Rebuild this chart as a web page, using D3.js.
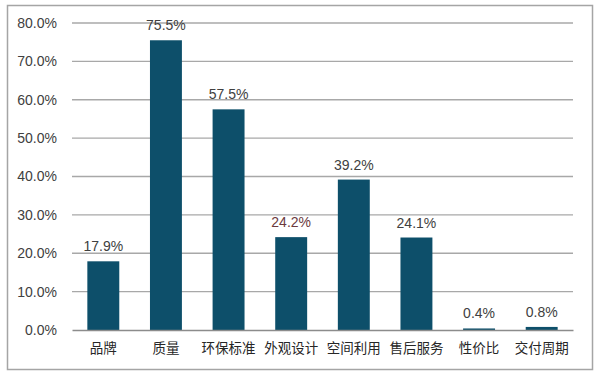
<!DOCTYPE html>
<html>
<head>
<meta charset="utf-8">
<script src="https://cdn.jsdelivr.net/npm/d3@7/dist/d3.min.js"></script>
<style>
  body { margin: 0; background: #fff; }
  svg { display: block; }
</style>
</head>
<body>
<div class="canvas"></div>
<script>
const categories = ['品牌', '质量', '环保标准', '外观设计', '空间利用', '售后服务', '性价比', '交付周期'];
const values = [17.9, 75.5, 57.5, 24.2, 39.2, 24.1, 0.4, 0.8];
const yTicks = [0, 10, 20, 30, 40, 50, 60, 70, 80];

const dims = { width: 600, height: 374 };
const margin = { left: 72, right: 27, top: 23, bottom: 44 };

const svg = d3.select('.canvas')
  .append('svg')
    .attr('width', dims.width)
    .attr('height', dims.height)

// outer frame
svg.append('rect')
  .attr('x', 7.5)
  .attr('y', 5.5)
  .attr('width', 585)
  .attr('height', 364)
  .attr('fill', '#fff')
  .attr('stroke', '#a5a5a5')
  .attr('stroke-width', 1.5)

const x = d3.scaleBand()
  .domain(categories)
  .range([margin.left, dims.width - margin.right])
  .paddingInner(0.49)
  .paddingOuter(0.245)

const y = d3.scaleLinear()
  .domain([0, 80])
  .range([330, margin.top])

const numFont = '"Liberation Sans", Arial, sans-serif';
const cjkFont = '"Noto Sans CJK SC", sans-serif';

// gridlines
svg.append('g')
  .selectAll('line')
  .data(yTicks.filter(d => d > 0))
  .enter()
  .append('line')
    .attr('x1', margin.left)
    .attr('x2', dims.width - margin.right)
    .attr('y1', d => y(d))
    .attr('y2', d => y(d))
    .attr('stroke', '#a8a8a8')
    .attr('stroke-width', 1.3)

// y axis labels
const yAxis = d3.axisLeft(y)
  .tickValues(yTicks)
  .tickSize(0)
  .tickPadding(15)
  .tickFormat(d => d.toFixed(1) + '%')

svg.append('g')
  .attr('transform', `translate(${margin.left}, 0)`)
  .call(yAxis)
  .call(g => g.select('.domain').remove())
  .selectAll('text')
    .attr('font-family', numFont)
    .attr('font-size', 14)
    .attr('fill', '#404040')

// bars
svg.append('g')
  .selectAll('rect')
  .data(values)
  .enter()
  .append('rect')
    .attr('x', (d, i) => x(categories[i]))
    .attr('y', d => y(d))
    .attr('width', x.bandwidth())
    .attr('height', d => y(0) - y(d))
    .attr('fill', '#0d4f6a')

// baseline + category labels
const xAxis = d3.axisBottom(x)
  .tickSize(0)
  .tickPadding(13)

svg.append('g')
  .attr('transform', `translate(0, ${y(0)})`)
  .call(xAxis)
  .call(g => g.select('.domain')
    .attr('stroke', '#8c8c8c')
    .attr('stroke-width', 1.5))
  .selectAll('text')
    .attr('font-family', cjkFont)
    .attr('font-size', 13.5)
    .attr('fill', '#262626')

// value labels
svg.append('g')
  .selectAll('text')
  .data(values)
  .enter()
  .append('text')
    .attr('x', (d, i) => x(categories[i]) + x.bandwidth() / 2)
    .attr('y', d => y(d) - 10)
    .attr('text-anchor', 'middle')
    .attr('font-family', numFont)
    .attr('font-size', 14)
    .attr('fill', (d, i) => i == 3 ? '#6b3a3e' : '#404040')
    .text(d => d.toFixed(1) + '%')
</script>
</body>
</html>
